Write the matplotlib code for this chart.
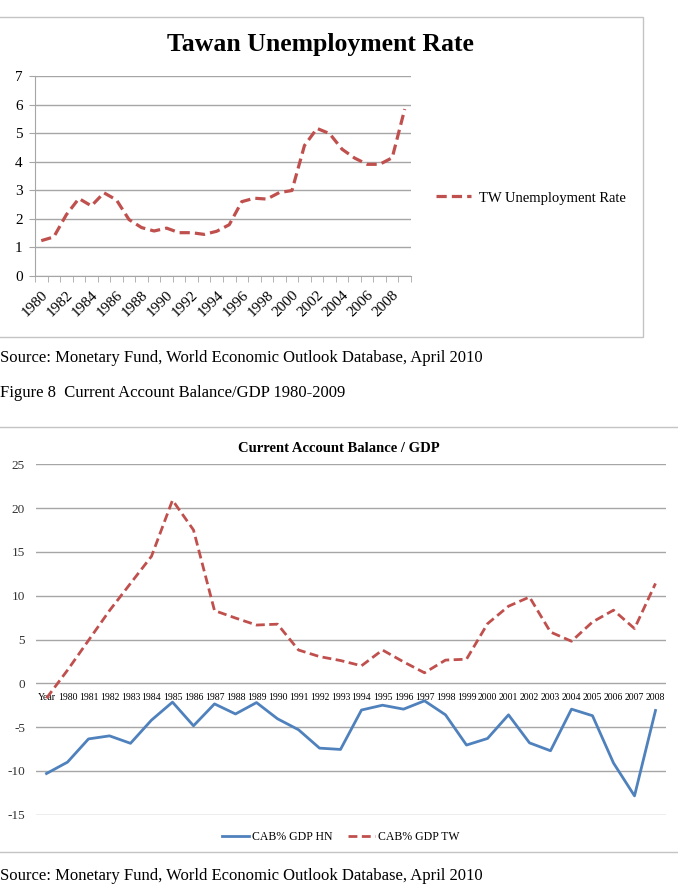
import matplotlib
matplotlib.use('Agg')
import matplotlib.pyplot as plt
from matplotlib.patches import Rectangle
import numpy as np

# Taiwan unemployment rate 1980-2009
tw_years = list(range(1980, 2010))
tw_unemp = [1.23, 1.36, 2.14, 2.71, 2.45, 2.91, 2.66, 1.97, 1.69, 1.57,
            1.67, 1.51, 1.51, 1.45, 1.56, 1.79, 2.60, 2.72, 2.69, 2.92,
            2.99, 4.57, 5.17, 4.99, 4.44, 4.13, 3.91, 3.91, 4.14, 5.85]

# Current account balance / GDP
cab_labels = ['Year'] + [str(y) for y in range(1980, 2009)]
cab_hn = [-10.3, -9.0, -6.35, -6.0, -6.85, -4.2, -2.15, -4.85, -2.35, -3.5,
          -2.2, -4.05, -5.3, -7.4, -7.55, -3.05, -2.5, -2.95, -2.0, -3.6,
          -7.05, -6.3, -3.6, -6.8, -7.7, -2.95, -3.7, -9.1, -12.85, -3.1]
cab_tw = [-1.7, 1.5, 4.9, 8.3, 11.4, 14.5, 20.9, 17.5, 8.3, 7.45,
          6.65, 6.75, 3.8, 3.05, 2.6, 2.0, 3.8, 2.45, 1.2, 2.65,
          2.75, 6.8, 8.8, 9.85, 5.85, 4.8, 7.0, 8.35, 6.25, 11.4]

plt.rcParams['font.family'] = ['Liberation Serif', 'DejaVu Serif']
plt.rcParams['axes.unicode_minus'] = False

RED = '#C0504D'
BLUE = '#4F81BD'
GRID = '#A6A6A6'
W, H = 678, 885


def fx(px):
    return px / W


def fy(py):
    return 1 - py / H


fig = plt.figure(figsize=(6.78, 8.85), dpi=100)

# chart frames
fig.add_artist(Rectangle((fx(-5), fy(337)), fx(648), (337 - 17) / H,
                         transform=fig.transFigure, fill=False, ec='#C4C4C4', lw=1))
fig.add_artist(Rectangle((fx(-5), fy(852)), fx(690), (852 - 427) / H,
                         transform=fig.transFigure, fill=False, ec='#C4C4C4', lw=1))

# ---- chart 1 ----
ax1 = fig.add_axes([fx(35), fy(275.7), fx(376), (275.7 - 76.3) / H])
line1, = ax1.plot(range(len(tw_years)), tw_unemp, color=RED, lw=2.3,
                  linestyle=(0, (3.2, 1.6)))
ax1.set_xlim(-0.5, len(tw_years) - 0.5)
ax1.set_ylim(0, 7)
ax1.set_yticks(range(8))
ax1.grid(axis='y', color=GRID, lw=1)
ax1.set_axisbelow(True)
for s in ['top', 'right']:
    ax1.spines[s].set_visible(False)
for s in ['left', 'bottom']:
    ax1.spines[s].set_color(GRID)
ax1.set_xticks(range(0, len(tw_years), 2))
ax1.set_xticklabels([str(y) for y in tw_years[::2]], rotation=45, ha='right',
                    va='top', rotation_mode='anchor', fontsize=11)
ax1.set_xticks(np.arange(-0.5, len(tw_years), 1), minor=True)
ax1.tick_params(axis='x', which='major', length=0, pad=9)
ax1.tick_params(axis='x', which='minor', length=4, color=GRID)
ax1.tick_params(axis='y', length=4, color=GRID, labelsize=11, pad=5)

fig.text(fx(320), fy(45), 'Tawan Unemployment Rate', ha='center', va='center',
         fontsize=18.5, fontweight='bold')
fig.legend([line1], ['TW Unemployment Rate'], loc='center left',
           bbox_to_anchor=(fx(436), fy(198)), frameon=False, borderpad=0,
           borderaxespad=0, handlelength=2.4, handletextpad=0.55, fontsize=10.5)

# ---- text between charts ----
fig.text(fx(0), fy(358), 'Source: Monetary Fund, World Economic Outlook Database, April 2010',
         ha='left', va='center', fontsize=12)
fig.text(fx(0), fy(393), 'Figure 8  Current Account Balance/GDP 1980-2009',
         ha='left', va='center', fontsize=12)
fig.text(fx(0), fy(876), 'Source: Monetary Fund, World Economic Outlook Database, April 2010',
         ha='left', va='center', fontsize=12)

# ---- chart 2 ----
ax2 = fig.add_axes([fx(36), fy(814.7), fx(630), (814.7 - 464.3) / H])
x = range(len(cab_labels))
l_hn, = ax2.plot(x, cab_hn, color=BLUE, lw=2)
l_tw, = ax2.plot(x, cab_tw, color=RED, lw=2, linestyle=(0, (3.2, 1.6)))
ax2.set_xlim(-0.5, len(cab_labels) - 0.5)
ax2.set_ylim(-15, 25)
ax2.set_yticks(range(-15, 30, 5))
ax2.grid(axis='y', color=GRID, lw=1)
ax2.set_axisbelow(True)
for s in ax2.spines.values():
    s.set_visible(False)
ax2.spines['bottom'].set_position(('data', 0))
ax2.set_xticks(list(x))
ax2.set_xticklabels(cab_labels, fontsize=7)
ax2.tick_params(axis='x', length=0, pad=7)
ax2.tick_params(axis='y', length=0, labelsize=9.5, pad=8, labelcolor='#333333')

fig.text(fx(339), fy(448), 'Current Account Balance / GDP', ha='center', va='center',
         fontsize=10.5, fontweight='bold')
fig.legend([l_hn, l_tw], ['CAB% GDP HN', 'CAB% GDP TW'], loc='center',
           bbox_to_anchor=(fx(341), fy(837)), ncol=2, frameon=False,
           handlelength=2.3, columnspacing=1.3, handletextpad=0.25, fontsize=8.5)

fig.savefig('out.png', dpi=100)
